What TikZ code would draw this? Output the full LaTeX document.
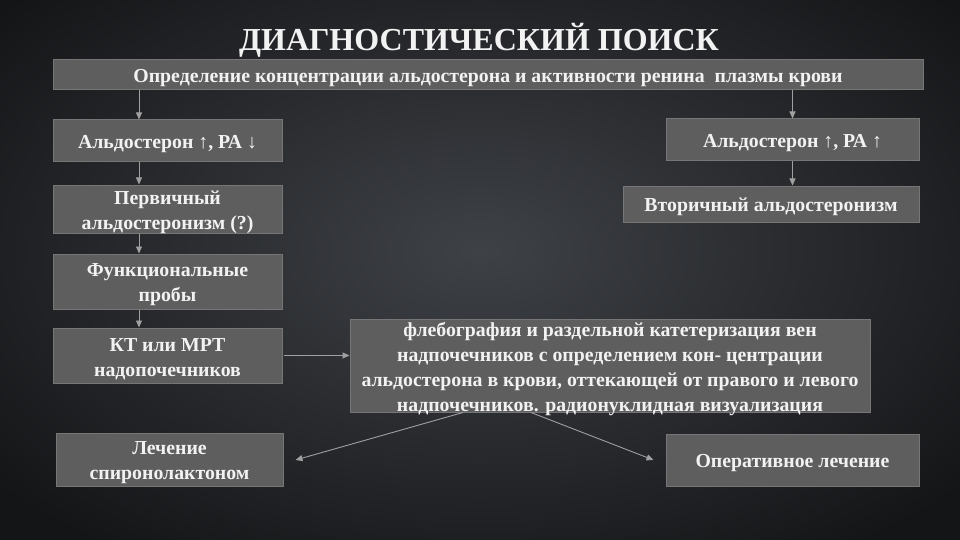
\documentclass[tikz,border=0pt]{standalone}
\usepackage{fontspec}
\setmainfont{Liberation Serif}
\usetikzlibrary{arrows.meta}
\definecolor{boxfill}{HTML}{5E5E5E}
\definecolor{boxline}{HTML}{767676}
\definecolor{arrcol}{HTML}{A0A0A0}
\definecolor{bgin}{HTML}{3E4146}
\definecolor{bgout}{HTML}{141517}
\definecolor{txt}{HTML}{F2F2F2}
\tikzset{
  box/.style={draw=boxline, line width=1pt, fill=boxfill, inner sep=0pt},
  boxtext/.style={text=txt, align=center, inner sep=0pt,
    font=\bfseries\fontsize{19.8}{25}\selectfont},
  arr/.style={draw=arrcol, line width=0.9pt, -{Triangle[length=7pt,width=6pt]}},
}
\begin{document}
\begin{tikzpicture}[x=1pt,y=-1pt]
\useasboundingbox (0,0) rectangle (960,540);
\shade[inner color=bgin, outer color=bgout] (-150,-120) rectangle (1110,620);

\node[text=txt, font=\bfseries\fontsize{32}{36}\selectfont] (title) at (479,40) {ДИАГНОСТИЧЕСКИЙ ПОИСК};

\node[box, minimum width=870, minimum height=30] (top) at (488,75) {};
\node[boxtext] (topt) at ([yshift=-3]top.center) {Определение концентрации альдостерона и активности ренина \ плазмы крови};

\node[box, minimum width=229, minimum height=42] (a1) at (167.5,141) {};
\node[boxtext] (a1t) at ([yshift=-3]a1.center) {Альдостерон ↑, РА ↓};
\node[box, minimum width=229, minimum height=48] (p1) at (167.5,209) {};
\node[boxtext] (p1t) at ([yshift=-3]p1.center) {Первичный\\альдостеронизм (?)};
\node[box, minimum width=229, minimum height=55] (fn) at (167.5,281.5) {};
\node[boxtext] (fnt) at ([yshift=-3]fn.center) {Функциональные\\пробы};
\node[box, minimum width=229, minimum height=55] (kt) at (167.5,355.5) {};
\node[boxtext] (ktt) at ([yshift=-3.5]kt.center) {КТ или МРТ\\надопочечников};
\node[box, minimum width=227, minimum height=53] (lech) at (169.5,460) {};
\node[boxtext] (lecht) at ([yshift=-2.5]lech.center) {Лечение\\спиронолактоном};

\node[box, minimum width=253, minimum height=42] (a2) at (792.5,140) {};
\node[boxtext] (a2t) at ([yshift=-3]a2.center) {Альдостерон ↑, РА ↑};
\node[box, minimum width=296, minimum height=36] (sec) at (771,204) {};
\node[boxtext] (sect) at ([yshift=-3]sec.center) {Вторичный альдостеронизм};

\node[box, minimum width=520, minimum height=93] (ph) at (610,365.5) {};
\node[boxtext] (pht) at ([yshift=-3.5]ph.center) {флебография и раздельной катетеризация вен\\надпочечников с определением кон- центрации\\альдостерона в крови, оттекающей от правого и левого\\надпочечников. радионуклидная визуализация};

\node[box, minimum width=253, minimum height=52] (op) at (792.5,460) {};
\node[boxtext] (opt) at ([yshift=-3]op.center) {Оперативное лечение};

\draw[arr] ([xshift=-28.5]a1.north |- top.south) -- ([xshift=-28.5]a1.north);
\draw[arr] ([xshift=-28.5]a1.south) -- ([xshift=-28.5]p1.north);
\draw[arr] ([xshift=-28.5]p1.south) -- ([xshift=-28.5]fn.north);
\draw[arr] ([xshift=-28.5]fn.south) -- ([xshift=-28.5]kt.north);
\draw[arr] (a2.north |- top.south) -- (a2.north);
\draw[arr] (a2.south) -- (a2.south |- sec.north);
\draw[arr] ([xshift=1]kt.east) -- (ph.west |- kt.east);
\draw[arr] ([xshift=-147]ph.south) -- ([xshift=12]lech.east);
\draw[arr] ([xshift=-79]ph.south) -- ([xshift=-12]op.west);
\end{tikzpicture}
\end{document}
